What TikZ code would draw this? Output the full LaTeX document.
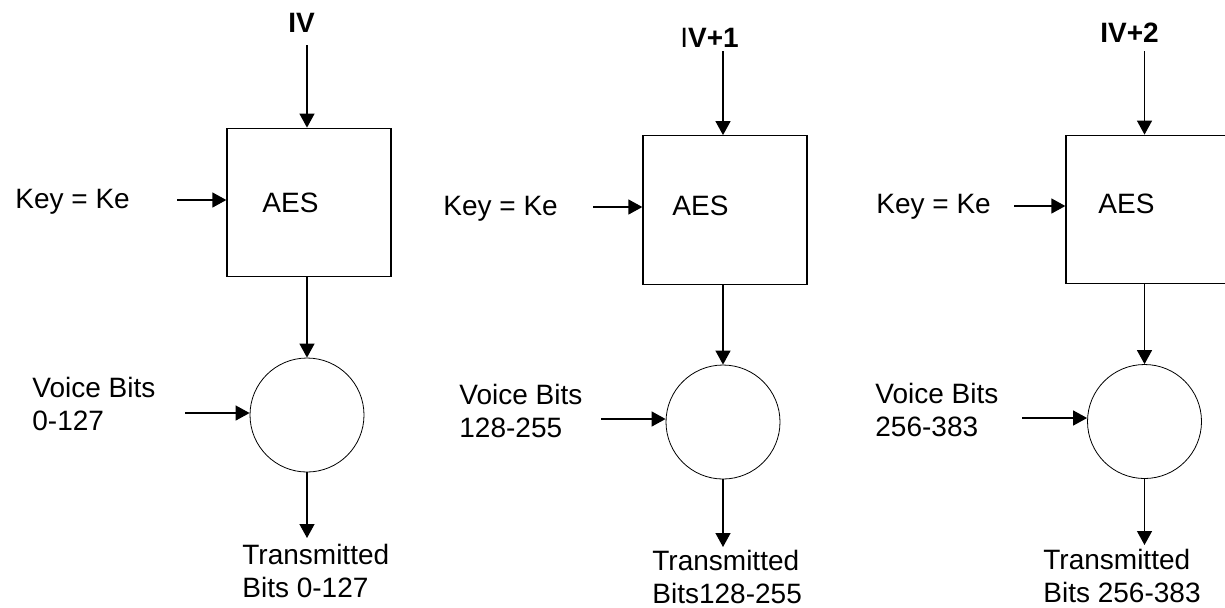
\documentclass[tikz,border=0pt]{standalone}
\usepackage{fontspec}
\setmainfont{Liberation Sans}
\usetikzlibrary{arrows.meta}
\begin{document}
\begin{tikzpicture}[x=0.5pt,y=-0.5pt,
  txt/.style={font=\fontsize{14}{16.5}\selectfont, inner sep=0pt},
  lbl/.style={font=\fontsize{14}{16.5}\selectfont\bfseries, inner sep=0pt, anchor=base west},
  aesbox/.style={draw, line width=0.65pt, minimum width=82pt, minimum height=74.25pt, inner sep=0pt},
  xorc/.style={draw, circle, line width=0.4pt, minimum size=57pt, inner sep=0pt},
  arr/.style={-{Triangle[length=7pt,width=7.5pt]}, line width=0.65pt},
  multi/.style={txt, align=left, anchor=north west}]
\useasboundingbox (0,0) rectangle (1225,607);
\clip (0,0) rectangle (1225,607);

% ---------- column 1 ----------
\node[lbl] (iv1) at (288,32) {IV};
\node[aesbox] (box1) at (309,202.5) {};
\node[txt, anchor=base west] (aes1) at (262,212) {AES};
\node[txt, anchor=base west] (key1) at (15,208) {Key = Ke};
\node[xorc] (x1) at (307,415) {};
\node[multi] (voice1) at (32,377) {\rule{0pt}{10pt}Voice Bits\\0-127};
\node[multi] (out1) at (242,544) {\rule{0pt}{10pt}Transmitted\\Bits 0-127};
\coordinate (s1) at (307,45);
\coordinate (k1) at (177,200);
\coordinate (v1) at (185,413);
\coordinate (t1) at (307,538);
\draw[arr] (s1) -- (s1 |- box1.north);
\draw[arr] (k1) -- (k1 -| box1.west);
\draw[arr] (s1 |- box1.south) -- (x1.north);
\draw[arr] (v1) -- (v1 -| x1.west);
\draw[arr] (x1.south) -- (t1);

% ---------- column 2 ----------
\node[lbl] (iv2) at (680,47) {\textmd{I}V+1};
\node[aesbox] (box2) at (725,210) {};
\node[txt, anchor=base west] (aes2) at (672,215) {AES};
\node[txt, anchor=base west] (key2) at (443,215) {Key = Ke};
\node[xorc] (x2) at (723,422) {};
\node[multi] (voice2) at (459,384) {\rule{0pt}{10pt}Voice Bits\\128-255};
\node[multi] (out2) at (652,550) {\rule{0pt}{10pt}Transmitted\\Bits128-255};
\coordinate (s2) at (723,51);
\coordinate (k2) at (593,207);
\coordinate (v2) at (601,419);
\coordinate (t2) at (723,547);
\draw[arr] (s2) -- (s2 |- box2.north);
\draw[arr] (k2) -- (k2 -| box2.west);
\draw[arr] (s2 |- box2.south) -- (x2.north);
\draw[arr] (v2) -- (v2 -| x2.west);
\draw[arr] (x2.south) -- (t2);

% ---------- column 3 ----------
\node[lbl] (iv3) at (1100,42) {IV+2};
\node[aesbox] (box3) at (1148,209.5) {};
\node[txt, anchor=base west] (aes3) at (1098,213) {AES};
\node[txt, anchor=base west] (key3) at (876,213) {Key = Ke};
\node[xorc] (x3) at (1144.5,421.5) {};
\node[multi] (voice3) at (875,383) {\rule{0pt}{10pt}Voice Bits\\256-383};
\node[multi] (out3) at (1043,549) {\rule{0pt}{10pt}Transmitted\\Bits 256-383};
\coordinate (s3) at (1144.5,51);
\coordinate (k3) at (1014,206);
\coordinate (v3) at (1022,418);
\coordinate (t3) at (1144.5,545);
\draw[arr] (s3) -- (s3 |- box3.north);
\draw[arr] (k3) -- (k3 -| box3.west);
\draw[arr] (s3 |- box3.south) -- (x3.north);
\draw[arr] (v3) -- (v3 -| x3.west);
\draw[arr] (x3.south) -- (t3);
\end{tikzpicture}
\end{document}
